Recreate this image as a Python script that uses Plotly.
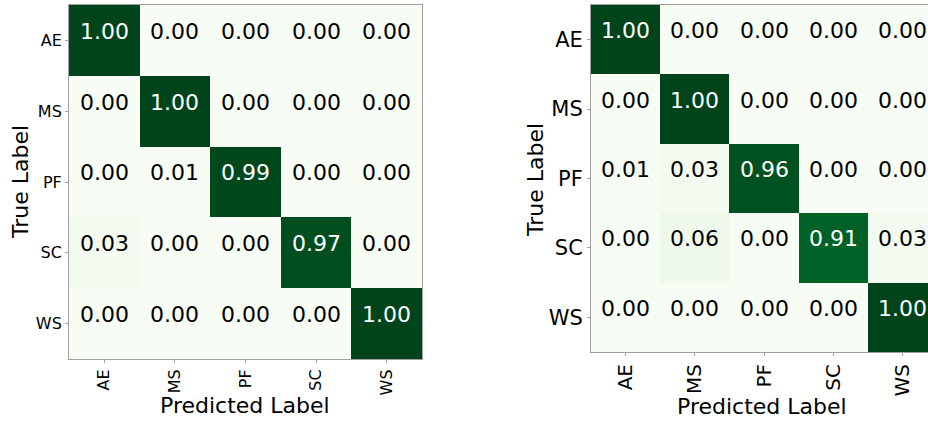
import plotly.graph_objects as go

# Class names shared by both confusion matrices
labels = ["AE", "MS", "PF", "SC", "WS"]

# Normalised confusion matrices (rows = true label, columns = predicted label)
cm_left = [
    [1.00, 0.00, 0.00, 0.00, 0.00],
    [0.00, 1.00, 0.00, 0.00, 0.00],
    [0.00, 0.01, 0.99, 0.00, 0.00],
    [0.03, 0.00, 0.00, 0.97, 0.00],
    [0.00, 0.00, 0.00, 0.00, 1.00],
]
cm_right = [
    [1.00, 0.00, 0.00, 0.00, 0.00],
    [0.00, 1.00, 0.00, 0.00, 0.00],
    [0.01, 0.03, 0.96, 0.00, 0.00],
    [0.00, 0.06, 0.00, 0.91, 0.03],
    [0.00, 0.00, 0.00, 0.00, 1.00],
]

W, H = 940, 422
FONT = "DejaVu Sans"

# matplotlib "Greens"
greens = [
    [0.0, "#f7fcf5"], [0.125, "#e5f5e0"], [0.25, "#c7e9c0"], [0.375, "#a1d99b"],
    [0.5, "#74c476"], [0.625, "#41ab5d"], [0.75, "#238b45"], [0.875, "#006d2c"],
    [1.0, "#00441b"],
]

fig = go.Figure()

panels = [
    # matrix, xaxis id, yaxis id, x px range, y px range, tick size, x tick size
    (cm_left, "x", "y", (69, 422), (5, 359), 16, 16),
    (cm_right, "x2", "y2", (591, 937), (5, 352), 21, 20),
]

annotations = []
for i, (cm, xa, ya, (x0, x1), (y0, y1), tsize, xtsize) in enumerate(panels):
    fig.add_trace(go.Heatmap(
        z=cm, x=labels, y=labels, xaxis=xa, yaxis=ya,
        colorscale=greens, zmin=0, zmax=1, showscale=False,
        hoverinfo="skip",
    ))
    sfx = "" if i == 0 else "2"
    axis_common = dict(
        showline=True, mirror=True, linecolor="#a0a0a0", linewidth=1,
        ticks="outside", ticklen=3, tickcolor="#a0a0a0",
        showgrid=False, zeroline=False,
    )
    fig.update_layout(**{
        "xaxis" + sfx: dict(domain=[x0 / W, x1 / W], anchor=ya, tickangle=-90,
                            tickfont=dict(family=FONT, size=xtsize, color="black"),
                            **axis_common),
        "yaxis" + sfx: dict(domain=[1 - y1 / H, 1 - y0 / H], anchor=xa,
                            autorange="reversed",
                            tickfont=dict(family=FONT, size=tsize, color="black"),
                            **axis_common),
    })
    for r, row in enumerate(cm):
        for c, v in enumerate(row):
            annotations.append(dict(
                x=labels[c], y=labels[r], xref=xa, yref=ya,
                text=f"{v:.2f}", showarrow=False,
                font=dict(family=FONT, size=22,
                          color="white" if v > 0.5 else "black"),
                yshift=9,
            ))

# Axis titles
titles = [
    ("Predicted Label", 245, 405, 0),
    ("True Label", 20, 182, -90),
    ("Predicted Label", 762, 406, 0),
    ("True Label", 536, 180, -90),
]
for text, px, py, ang in titles:
    annotations.append(dict(
        x=px / W, y=1 - py / H, xref="paper", yref="paper",
        text=text, showarrow=False, textangle=ang,
        xanchor="center", yanchor="middle",
        font=dict(family=FONT, size=22, color="black"),
    ))

fig.update_layout(
    width=W, height=H,
    margin=dict(l=0, r=0, t=0, b=0),
    paper_bgcolor="white", plot_bgcolor="white",
    annotations=annotations,
)

fig.write_html("out.html", post_script="document.body.style.overflow='hidden';")
